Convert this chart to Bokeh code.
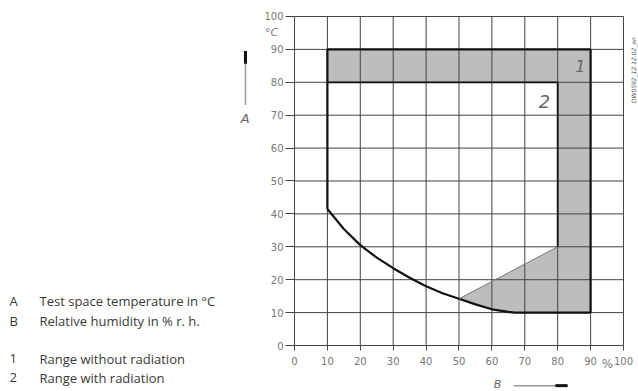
from bokeh.plotting import figure
from bokeh.models import Range1d, FixedTicker
from bokeh.core.properties import value
from bokeh.embed import file_html
from bokeh.resources import INLINE
import math

# ---- data ----
x_ticks = [0, 10, 20, 30, 40, 50, 60, 70, 80, 90, 100]
y_ticks = [0, 10, 20, 30, 40, 50, 60, 70, 80, 90, 100]

# lower limit curve (relative humidity %, temperature °C)
curve_rh = [10, 15, 20, 25, 30, 35, 40, 45, 50, 55, 60, 65, 67]
curve_t = [41.5, 35.4, 30.5, 26.7, 23.5, 20.6, 18.0, 15.9, 14.2, 12.5, 11.0, 10.2, 10.0]

# range limits
rh_min = 10
rh_max_1 = 90      # range without radiation
rh_max_2 = 80      # range with radiation
t_max_1 = 90
t_max_2 = 80
t_min_1 = 10
diag_rh = [50, 80]  # upper edge of lower grey wedge
diag_t = [14.2, 30]

legend_keys = ["A", "B", "1", "2"]
legend_texts = ["Test space temperature in °C", "Relative humidity in % r. h.",
                "Range without radiation", "Range with radiation"]
legend_y = [13.46, 7.38, -4.04, -9.82]

# ---- figure ----
W, H = 638, 391
p = figure(width=W, height=H, output_backend="svg", toolbar_location=None,
           x_range=Range1d(-89.36, 104.56), y_range=Range1d(-13.98, 104.86),
           min_border=0, min_border_left=0, min_border_right=0,
           min_border_top=0, min_border_bottom=0)
p.outline_line_color = None
p.background_fill_color = "white"
p.xgrid.visible = False
p.ygrid.visible = False

grid_col = "#444444"
for ax in (p.xaxis[0], p.yaxis[0]):
    ax.fixed_location = 0
    ax.bounds = (0, 100)
    ax.major_label_text_font = "DejaVu Sans"
    ax.major_label_text_font_size = "10px"
    ax.major_label_text_color = "#777777"
    ax.minor_tick_line_color = None
    ax.major_tick_in = 0
    ax.major_tick_line_color = grid_col
    ax.axis_line_color = None
p.xaxis.ticker = FixedTicker(ticks=x_ticks)
p.yaxis.ticker = FixedTicker(ticks=y_ticks)
p.xaxis.major_tick_out = 5
p.yaxis.major_tick_out = 9
p.xaxis.major_label_standoff = 6
p.yaxis.major_label_standoff = 2

# grey region (range 1 without radiation)
n50 = curve_rh.index(diag_rh[0])
rev_x = curve_rh[::-1][:len(curve_rh) - n50]
rev_y = curve_t[::-1][:len(curve_t) - n50]
poly_x = [rh_min, rh_max_1, rh_max_1] + rev_x + [diag_rh[1], rh_max_2, rh_min]
poly_y = [t_max_1, t_max_1, t_min_1] + rev_y + [diag_t[1], t_max_2, t_max_2]
p.patch(poly_x, poly_y, fill_color="#bdbdbd", line_color=None)

# grid lines (0..100 only)
p.segment(x0=x_ticks, y0=[y_ticks[0]] * len(x_ticks), x1=x_ticks, y1=[y_ticks[-1]] * len(x_ticks),
          line_color=grid_col, line_width=1)
p.segment(x0=[x_ticks[0]] * len(y_ticks), y0=y_ticks, x1=[x_ticks[-1]] * len(y_ticks), y1=y_ticks,
          line_color=grid_col, line_width=1)

# outer boundary
out_x = [rh_min, rh_min, rh_max_1, rh_max_1] + curve_rh[::-1]
out_y = [curve_t[0], t_max_1, t_max_1, t_min_1] + curve_t[::-1]
p.line(out_x, out_y, line_color="#111111", line_width=2.2)
# inner boundary (range 2)
p.line([rh_min, rh_max_2, rh_max_2], [t_max_2, t_max_2, diag_t[1]],
       line_color="#111111", line_width=1.8)
# diagonal
p.line(diag_rh, diag_t, line_color="#777777", line_width=1)

# region numbers
p.text(x=[86.9], y=[85], text=["1"], text_font=value("DejaVu Sans"), text_font_size="16px",
       text_font_style="italic", text_color="#666666", text_align="center", text_baseline="middle")
p.text(x=[76], y=[74.3], text=["2"], text_font=value("DejaVu Sans"), text_font_size="18px",
       text_font_style="italic", text_color="#666666", text_align="center", text_baseline="middle")

# unit labels
p.text(x=[-7], y=[95], text=["°C"], text_font=value("DejaVu Sans"), text_font_size="11px",
       text_font_style="italic", text_color="#777777", text_align="center", text_baseline="middle")
p.text(x=[95.1], y=[-5.5], text=["%"], text_font=value("DejaVu Sans"), text_font_size="12px",
       text_color="#777777", text_align="center", text_baseline="middle")

# axis letters with arrows
p.segment(x0=[-14.9], y0=[73.1], x1=[-14.9], y1=[89.5], line_color="#999999", line_width=1.5)
p.segment(x0=[-14.9], y0=[85.6], x1=[-14.9], y1=[89.5], line_color="#111111", line_width=3)
p.text(x=[-15], y=[68.9], text=["A"], text_font=value("DejaVu Sans"), text_font_size="13px",
       text_font_style="italic", text_color="#666666", text_align="center", text_baseline="middle")
p.segment(x0=[66.6], y0=[-12.2], x1=[83], y1=[-12.2], line_color="#999999", line_width=1.5)
p.segment(x0=[79.3], y0=[-12.2], x1=[83], y1=[-12.2], line_color="#111111", line_width=3)
p.text(x=[61.7], y=[-11.9], text=["B"], text_font=value("DejaVu Sans"), text_font_size="11px",
       text_font_style="italic", text_color="#666666", text_align="center", text_baseline="middle")

# drawing id
p.text(x=[103], y=[83.7], text=["DW0592_12.12.02_en"], text_font=value("DejaVu Sans"),
       text_font_size="6px", text_font_style="italic", text_color="#555555",
       angle=math.pi / 2, text_align="center", text_baseline="middle")

# legend text
p.text(x=[-86.6] * 4, y=legend_y, text=legend_keys, text_font=value("Open Sans"),
       text_font_size="13px", text_color="#3a3a3a", text_baseline="middle")
p.text(x=[-77.5] * 4, y=legend_y, text=legend_texts, text_font=value("Open Sans"),
       text_font_size="13px", text_color="#3a3a3a", text_baseline="middle")

open("out.html", "w").write(file_html(p, INLINE))
